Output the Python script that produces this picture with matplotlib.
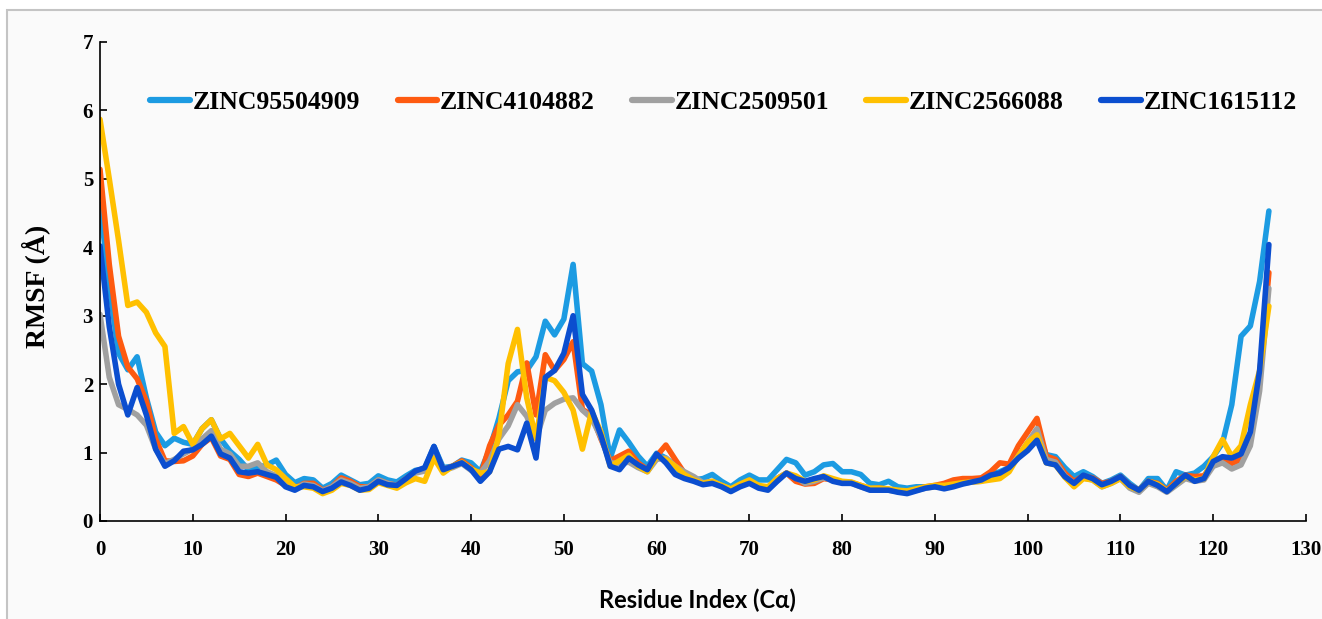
import matplotlib
matplotlib.use('Agg')
import matplotlib.pyplot as plt
import numpy as np
from matplotlib.patches import Rectangle

# RMSF per residue (Å), residues 0..126
residues = np.arange(127)

zinc95504909 = [4.63, 3.45, 2.45, 2.21, 2.40, 1.80, 1.30, 1.10, 1.21, 1.15,
                1.12, 1.35, 1.48, 1.20, 1.02, 0.90, 0.75, 0.78, 0.82, 0.89,
                0.68, 0.56, 0.62, 0.60, 0.48, 0.55, 0.67, 0.60, 0.53, 0.55,
                0.66, 0.60, 0.57, 0.66, 0.74, 0.76, 1.09, 0.78, 0.80, 0.89,
                0.85, 0.72, 1.05, 1.50, 2.05, 2.18, 2.20, 2.40, 2.92, 2.72,
                2.95, 3.75, 2.30, 2.19, 1.70, 0.92, 1.33, 1.15, 0.95, 0.80,
                0.99, 0.92, 0.80, 0.65, 0.60, 0.62, 0.68, 0.58, 0.50, 0.60,
                0.67, 0.60, 0.60, 0.75, 0.90, 0.85, 0.67, 0.72, 0.82, 0.84,
                0.72, 0.72, 0.68, 0.55, 0.53, 0.58, 0.50, 0.48, 0.50, 0.50,
                0.50, 0.50, 0.55, 0.58, 0.60, 0.62, 0.68, 0.72, 0.78, 0.95,
                1.09, 1.30, 0.97, 0.94, 0.78, 0.65, 0.72, 0.65, 0.55, 0.60,
                0.67, 0.55, 0.45, 0.62, 0.62, 0.45, 0.72, 0.67, 0.70, 0.80,
                0.94, 1.14, 1.70, 2.70, 2.85, 3.50, 4.53]

zinc4104882 = [5.14, 3.75, 2.70, 2.25, 2.08, 1.75, 1.20, 0.88, 0.87, 0.88,
               0.95, 1.12, 1.22, 0.95, 0.90, 0.68, 0.65, 0.70, 0.65, 0.60,
               0.52, 0.48, 0.55, 0.55, 0.45, 0.50, 0.63, 0.58, 0.50, 0.50,
               0.60, 0.55, 0.52, 0.62, 0.72, 0.75, 1.05, 0.75, 0.80, 0.88,
               0.78, 0.65, 1.10, 1.40, 1.55, 1.75, 2.31, 1.55, 2.43, 2.20,
               2.36, 2.62, 1.63, 1.55, 1.20, 0.88, 0.95, 1.02, 0.85, 0.75,
               0.95, 1.11, 0.90, 0.70, 0.60, 0.55, 0.56, 0.52, 0.45, 0.52,
               0.58, 0.50, 0.48, 0.62, 0.70, 0.58, 0.54, 0.55, 0.62, 0.60,
               0.56, 0.56, 0.52, 0.47, 0.48, 0.46, 0.44, 0.43, 0.46, 0.50,
               0.52, 0.55, 0.60, 0.62, 0.62, 0.63, 0.72, 0.85, 0.83, 1.10,
               1.30, 1.50, 0.95, 0.90, 0.70, 0.58, 0.66, 0.63, 0.55, 0.58,
               0.65, 0.52, 0.45, 0.58, 0.55, 0.45, 0.58, 0.67, 0.65, 0.66,
               0.85, 0.92, 0.84, 0.90, 1.20, 2.10, 3.63]

zinc2509501 = [3.02, 2.10, 1.70, 1.63, 1.55, 1.40, 1.05, 0.84, 0.90, 0.98,
               1.05, 1.20, 1.32, 1.05, 0.98, 0.80, 0.80, 0.85, 0.72, 0.66,
               0.54, 0.48, 0.54, 0.52, 0.44, 0.50, 0.60, 0.55, 0.48, 0.50,
               0.60, 0.55, 0.52, 0.62, 0.70, 0.73, 1.00, 0.74, 0.78, 0.84,
               0.74, 0.70, 0.88, 1.20, 1.39, 1.70, 1.53, 1.20, 1.62, 1.72,
               1.78, 1.80, 1.62, 1.50, 1.22, 0.85, 0.84, 0.86, 0.78, 0.72,
               0.90, 0.92, 0.80, 0.72, 0.65, 0.56, 0.58, 0.52, 0.46, 0.53,
               0.58, 0.50, 0.48, 0.62, 0.70, 0.64, 0.55, 0.58, 0.63, 0.60,
               0.56, 0.55, 0.50, 0.46, 0.47, 0.45, 0.43, 0.42, 0.45, 0.48,
               0.50, 0.50, 0.53, 0.55, 0.57, 0.58, 0.65, 0.68, 0.76, 0.95,
               1.15, 1.35, 0.90, 0.86, 0.66, 0.55, 0.63, 0.60, 0.50, 0.55,
               0.62, 0.48, 0.42, 0.55, 0.50, 0.42, 0.52, 0.62, 0.58, 0.60,
               0.80, 0.85, 0.76, 0.82, 1.10, 1.90, 3.40]

zinc2566088 = [5.87, 5.00, 4.10, 3.15, 3.20, 3.05, 2.75, 2.55, 1.28, 1.38,
               1.12, 1.35, 1.48, 1.20, 1.28, 1.10, 0.92, 1.12, 0.82, 0.75,
               0.62, 0.50, 0.50, 0.48, 0.40, 0.45, 0.55, 0.52, 0.45, 0.46,
               0.56, 0.52, 0.48, 0.56, 0.62, 0.58, 0.92, 0.70, 0.80, 0.86,
               0.76, 0.70, 0.72, 1.25, 2.30, 2.80, 1.80, 1.20, 2.10, 2.05,
               1.88, 1.62, 1.05, 1.60, 1.30, 0.80, 0.88, 0.96, 0.80, 0.72,
               0.94, 0.90, 0.80, 0.68, 0.60, 0.55, 0.58, 0.52, 0.47, 0.54,
               0.60, 0.52, 0.50, 0.62, 0.70, 0.66, 0.58, 0.60, 0.66, 0.62,
               0.58, 0.57, 0.52, 0.48, 0.48, 0.47, 0.45, 0.44, 0.47, 0.50,
               0.52, 0.52, 0.54, 0.56, 0.57, 0.58, 0.60, 0.62, 0.72, 0.95,
               1.15, 1.26, 0.85, 0.82, 0.64, 0.50, 0.62, 0.60, 0.50, 0.55,
               0.62, 0.50, 0.45, 0.58, 0.54, 0.44, 0.55, 0.65, 0.60, 0.62,
               0.94, 1.19, 0.94, 1.10, 1.70, 2.20, 3.14]

zinc1615112 = [4.02, 2.84, 2.00, 1.55, 1.95, 1.55, 1.05, 0.80, 0.88, 1.02,
               1.04, 1.12, 1.24, 0.98, 0.92, 0.72, 0.70, 0.72, 0.68, 0.64,
               0.50, 0.45, 0.52, 0.50, 0.43, 0.48, 0.57, 0.52, 0.45, 0.48,
               0.58, 0.53, 0.52, 0.62, 0.73, 0.78, 1.09, 0.75, 0.80, 0.85,
               0.75, 0.58, 0.72, 1.05, 1.09, 1.04, 1.43, 0.92, 2.10, 2.20,
               2.45, 3.00, 1.85, 1.62, 1.25, 0.80, 0.75, 0.92, 0.82, 0.75,
               0.98, 0.85, 0.68, 0.62, 0.58, 0.53, 0.55, 0.50, 0.43, 0.50,
               0.55, 0.48, 0.45, 0.58, 0.70, 0.62, 0.58, 0.62, 0.65, 0.58,
               0.55, 0.55, 0.50, 0.45, 0.45, 0.45, 0.42, 0.40, 0.44, 0.48,
               0.50, 0.47, 0.50, 0.54, 0.57, 0.60, 0.67, 0.70, 0.78, 0.92,
               1.03, 1.18, 0.85, 0.82, 0.65, 0.55, 0.67, 0.62, 0.53, 0.58,
               0.65, 0.52, 0.45, 0.58, 0.52, 0.43, 0.55, 0.67, 0.58, 0.62,
               0.87, 0.94, 0.92, 0.98, 1.30, 2.20, 4.04]

names = ['ZINC95504909', 'ZINC4104882', 'ZINC2509501', 'ZINC2566088', 'ZINC1615112']
series = [zinc95504909, zinc4104882, zinc2509501, zinc2566088, zinc1615112]
colors = ['#1c9be2', '#fe5a10', '#a0a0a0', '#ffc000', '#0b4ecf']

serif = ['Liberation Serif', 'DejaVu Serif']

fig = plt.figure(figsize=(13.22, 6.19), dpi=100, facecolor='white')
# light panel with a grey frame behind the plot
fig.patches.append(Rectangle((7 / 1322, -0.01), 1.0, 1 - 10 / 619 + 0.01,
                             transform=fig.transFigure, facecolor='#fafafa',
                             edgecolor='#c4c4c4', linewidth=1.5, zorder=-5))

ax = fig.add_axes([100 / 1322, 98 / 619, 1206 / 1322, 479 / 619])
ax.set_facecolor('none')

for name, vals, c in zip(names, series, colors):
    ax.plot(residues, vals, color=c, lw=4.0, label=name,
            solid_joinstyle='round', solid_capstyle='round')

ax.set_xlim(0, 130)
ax.set_ylim(0, 7)
ax.set_xticks(np.arange(0, 131, 10))
ax.set_yticks(np.arange(0, 8, 1))
for s in ['top', 'right']:
    ax.spines[s].set_visible(False)
for s in ['left', 'bottom']:
    ax.spines[s].set_linewidth(1.2)
ax.tick_params(direction='in', length=5, width=1.2)
ax.tick_params(axis='x', pad=14)
ax.tick_params(axis='y', pad=5)
for lab in ax.get_xticklabels() + ax.get_yticklabels():
    lab.set_fontfamily(serif)
    lab.set_fontweight('bold')
    lab.set_fontsize(15)

ax.set_ylabel('RMSF (Å)', family=serif, fontweight='bold', fontsize=20)
ax.yaxis.set_label_coords(-0.041, 0.49)
ax.set_xlabel('Residue Index (Cα)', family=['Lato', 'DejaVu Sans'],
              fontweight='bold', fontsize=17)
ax.xaxis.set_label_coords(0.495, -0.142)

leg = ax.legend(loc='center', bbox_to_anchor=(0.517, 0.873), ncol=5,
                frameon=False, handlelength=1.55, handletextpad=0.1,
                columnspacing=1.45,
                prop={'family': serif, 'weight': 'bold', 'size': 18.5})
for line in leg.get_lines():
    line.set_linewidth(4.5)

fig.savefig('out.png', dpi=100, facecolor=fig.get_facecolor())
